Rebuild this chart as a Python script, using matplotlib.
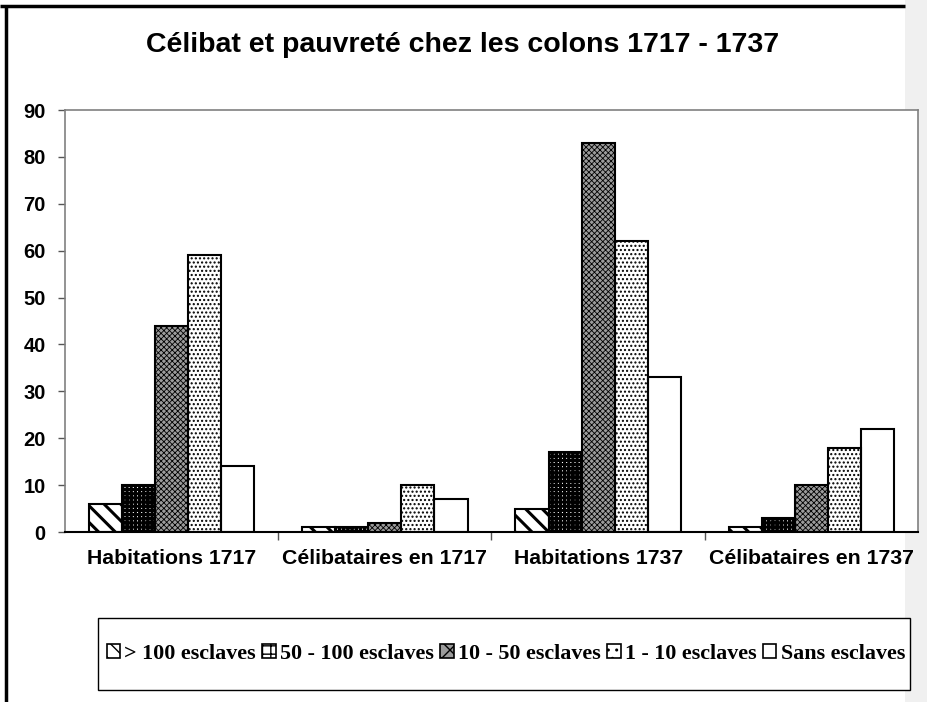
import numpy as np
import matplotlib
matplotlib.use("Agg")
import matplotlib.pyplot as plt
from matplotlib.patches import Rectangle, Patch
from matplotlib.lines import Line2D

categories = ["Habitations 1717", "Célibataires en 1717", "Habitations 1737", "Célibataires en 1737"]
series_names = ["> 100 esclaves", "50 - 100 esclaves", "10 - 50 esclaves", "1 - 10 esclaves", "Sans esclaves"]
plus_100 = [6, 1, 5, 1]
from_50_to_100 = [10, 1, 17, 3]
from_10_to_50 = [44, 2, 83, 10]
from_1_to_10 = [59, 10, 62, 18]
sans_esclaves = [14, 7, 33, 22]
series_values = [plus_100, from_50_to_100, from_10_to_50, from_1_to_10, sans_esclaves]
y_ticks = [0, 10, 20, 30, 40, 50, 60, 70, 80, 90]
title = "Célibat et pauvreté chez les colons 1717 - 1737"

# face colour, hatch, hatch colour, hatch line width for each series
styles = [
    ("white", "\\\\", "black", 2.2),
    ("white", "++++", "black", 2.2),
    ("#9c9c9c", "xxxxxx", "black", 0.6),
    ("white", "....", "black", 1.0),
    ("white", "", "black", 1.0),
]

W, H = 928, 702
fig = plt.figure(figsize=(W / 100, H / 100), dpi=100)
fig.patch.set_facecolor("white")

# light strip on the right edge
fig.patches.append(Rectangle((905 / W, 0), (W - 905) / W, 1, transform=fig.transFigure,
                             facecolor="#f0f0f0", edgecolor="none", zorder=0))
# heavy frame lines on top and left
fig.add_artist(Line2D([0, 905 / W], [1 - 6 / H, 1 - 6 / H], transform=fig.transFigure,
                      color="black", lw=2.5, solid_capstyle="butt"))
fig.add_artist(Line2D([6 / W, 6 / W], [0, 1 - 5 / H], transform=fig.transFigure,
                      color="black", lw=2.5, solid_capstyle="butt"))

left, right, top, bottom = 65, 918, 110, 532
ax = fig.add_axes([left / W, 1 - bottom / H, (right - left) / W, (bottom - top) / H])
ax.set_facecolor("white")
ax.set_zorder(2)

x = np.arange(len(categories))
bw = 0.155
for i, (vals, (fc, hatch, hc, hlw)) in enumerate(zip(series_values, styles)):
    pos = x + (i - 2) * bw
    plt.rcParams["hatch.linewidth"] = hlw
    ax.bar(pos, vals, width=bw, facecolor=fc, hatch=hatch, edgecolor=hc, linewidth=0, zorder=2)
    ax.bar(pos, vals, width=bw, fill=False, edgecolor="black", linewidth=1.5, zorder=3)
plt.rcParams["hatch.linewidth"] = 1.0

ax.set_xlim(-0.5, len(categories) - 0.5)
ax.set_ylim(0, 90)
ax.set_yticks(y_ticks)
ax.set_yticklabels([str(t) for t in y_ticks], fontfamily="Liberation Sans",
                   fontweight="bold", fontsize=14.5)
ax.set_xticks(x)
ax.set_xticklabels(categories, fontfamily="Liberation Sans", fontweight="bold", fontsize=15.3)
ax.set_xticks(np.arange(0.5, len(categories) - 1, 1), minor=True)
ax.tick_params(axis="x", which="major", length=0, pad=12)
ax.tick_params(axis="x", which="minor", length=6, width=1, color="#555555", direction="out")
ax.tick_params(axis="y", length=5, width=1, color="#555555", pad=9)

for s in ("top", "right", "left"):
    ax.spines[s].set_color("#808080")
    ax.spines[s].set_linewidth(1.2)
ax.spines["bottom"].set_color("black")
ax.spines["bottom"].set_linewidth(1.5)

fig.text(463 / W, 1 - 45 / H, title, ha="center", va="center",
         fontfamily="Liberation Sans", fontweight="bold", fontsize=20.5)

# legend box
lx0, ly0, lx1, ly1 = 98, 618, 910, 690
fig.patches.append(Rectangle((lx0 / W, 1 - ly1 / H), (lx1 - lx0) / W, (ly1 - ly0) / H,
                             transform=fig.transFigure, facecolor="white",
                             edgecolor="black", linewidth=1.0, zorder=3))
handles = []
for name, (fc, hatch, hc, hlw) in zip(series_names, styles):
    handles.append(Patch(facecolor=fc, hatch=hatch[:2] if hatch else "", edgecolor="black",
                         linewidth=1.2, label=name))
leg = fig.legend(handles=handles, loc="center", ncol=5,
                 bbox_to_anchor=((lx0 + lx1) / 2 / W + 0.002, 1 - (ly0 + ly1) / 2 / H),
                 frameon=False, handlelength=0.6, handleheight=0.6, handletextpad=0.2,
                 columnspacing=0.3, borderpad=0,
                 prop={"family": "Liberation Serif", "weight": "bold", "size": 15.8})
leg.set_zorder(4)

fig.savefig("out.png", dpi=100)
